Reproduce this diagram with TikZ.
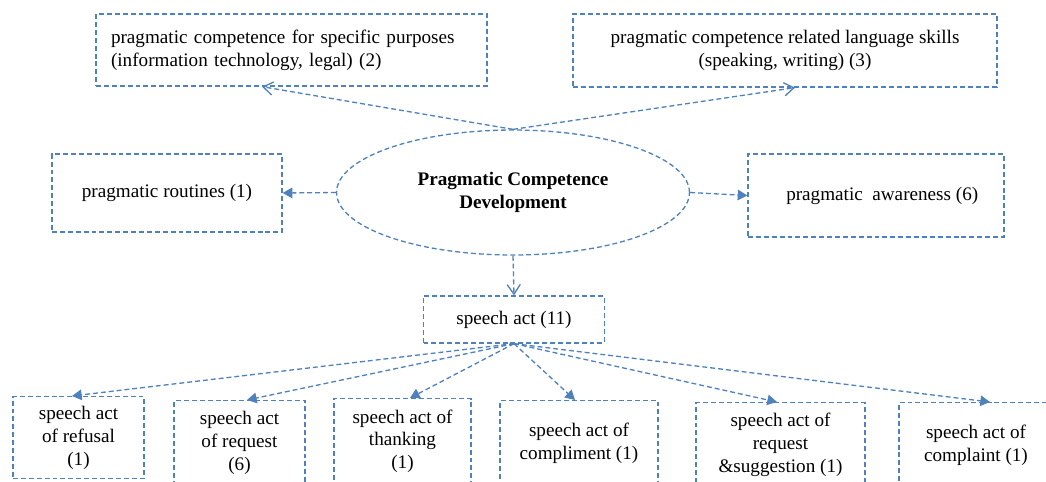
\documentclass[tikz,border=0pt]{standalone}
\usepackage{fontspec}
\setmainfont{Liberation Serif}
\usetikzlibrary{shapes.geometric,arrows.meta}
\definecolor{boxblue}{RGB}{79,129,189}

\begin{document}
\begin{tikzpicture}[x=0.02cm, y=-0.02cm]
\useasboundingbox (0,0) rectangle (1046,481);
\clip (0,0) rectangle (1046,481);

\coordinate (P_top1) at (291.5, 50);
\coordinate (P_top2) at (785, 50.5);
\coordinate (P_left) at (167, 193);
\coordinate (P_right) at (876, 195.5);
\coordinate (P_mid) at (513, 192.5);
\coordinate (P_act) at (514, 319.5);
\coordinate (P_act1) at (78.5, 396);
\coordinate (P_act2) at (239.5, 400);
\coordinate (P_act3) at (402.5, 398);
\coordinate (P_act4) at (579, 400);
\coordinate (P_act5) at (780.5, 402);
\coordinate (P_act6) at (976, 402);


\tikzset{BoxStyle/.style = {
 draw = boxblue,
 dash pattern = on 2.8pt off 1.7pt,
 line width = 0.75pt,
 inner sep = 0pt,
 align = center,
 font = \fontsize{10.9}{13}\selectfont} }

\node[BoxStyle, minimum width=7.82cm, minimum height=1.44cm, text width=7.22cm, align=left] (A) at (P_top1)
 {pragmatic competence for specific purposes\\(information technology, legal) (2)};
\node[BoxStyle, minimum width=8.48cm, minimum height=1.46cm] (B) at (P_top2)
 {pragmatic competence related language skills\\(speaking, writing) (3)};
\node[BoxStyle, minimum width=4.6cm, minimum height=1.56cm] (R) at (P_left) {pragmatic routines (1)};
\node[BoxStyle, minimum width=5.12cm, minimum height=1.66cm] (W) at (P_right) {\hspace{0.25cm}pragmatic\ \ awareness (6)};
\node[BoxStyle, shape=ellipse, minimum width=7.06cm, minimum height=2.5cm, font=\fontsize{10.9}{13}\selectfont\bfseries] (E) at (P_mid)
 {Pragmatic Competence\\Development};
\node[BoxStyle, minimum width=3.62cm, minimum height=0.94cm] (S) at (P_act) {speech act (11)};

\node[BoxStyle, anchor=north, minimum width=2.62cm, minimum height=1.64cm] (S1) at (P_act1) {speech act\\of refusal\\(1)};
\node[BoxStyle, anchor=north, minimum width=2.62cm, minimum height=1.7cm] (S2) at (P_act2) {speech act\\of request\\(6)};
\node[BoxStyle, anchor=north, minimum width=2.74cm, minimum height=1.7cm] (S3) at (P_act3) {speech act of\\thanking\\(1)};
\node[BoxStyle, anchor=north, minimum width=3.16cm, minimum height=1.7cm] (S4) at (P_act4) {speech act of\\compliment (1)};
\node[BoxStyle, anchor=north, minimum width=3.38cm, minimum height=1.7cm] (S5) at (P_act5) {speech act of\\request\\\&suggestion (1)};
\node[BoxStyle, anchor=north, minimum width=3.08cm, minimum height=1.7cm] (S6) at (P_act6) {speech act of\\complaint (1)};


\tikzset{EdgeStyle/.style = {draw=boxblue, dash pattern=on 2.8pt off 1.7pt, line width=0.75pt},
 OpenTip/.style = {-{Straight Barb[length=5.5pt, width=7.5pt]}},
 FillTip/.style = {-{Triangle[length=5.5pt, width=6pt]}} }

\draw[EdgeStyle, OpenTip] (E.north) -- ([xshift=-0.59cm]A.south);
\draw[EdgeStyle, OpenTip] (E.north) -- ([xshift=0.2cm]B.south);
\draw[EdgeStyle, FillTip] (E.west) -- (R.east);
\draw[EdgeStyle, FillTip] (E.east) -- (W.west);
\draw[EdgeStyle, OpenTip] (E.south) -- (S.north);

\draw[EdgeStyle, FillTip] (S.south) -- ([xshift=-0.13cm]S1.north);
\draw[EdgeStyle, FillTip] (S.south) -- ([xshift=0.15cm]S2.north);
\draw[EdgeStyle, FillTip] (S.south) -- ([xshift=0.15cm]S3.north);
\draw[EdgeStyle, FillTip] (S.south) -- ([xshift=-0.08cm]S4.north);
\draw[EdgeStyle, FillTip] (S.south) -- ([xshift=-0.07cm]S5.north);
\draw[EdgeStyle, FillTip] (S.south) -- ([xshift=0.28cm]S6.north);

\end{tikzpicture}
\end{document}
